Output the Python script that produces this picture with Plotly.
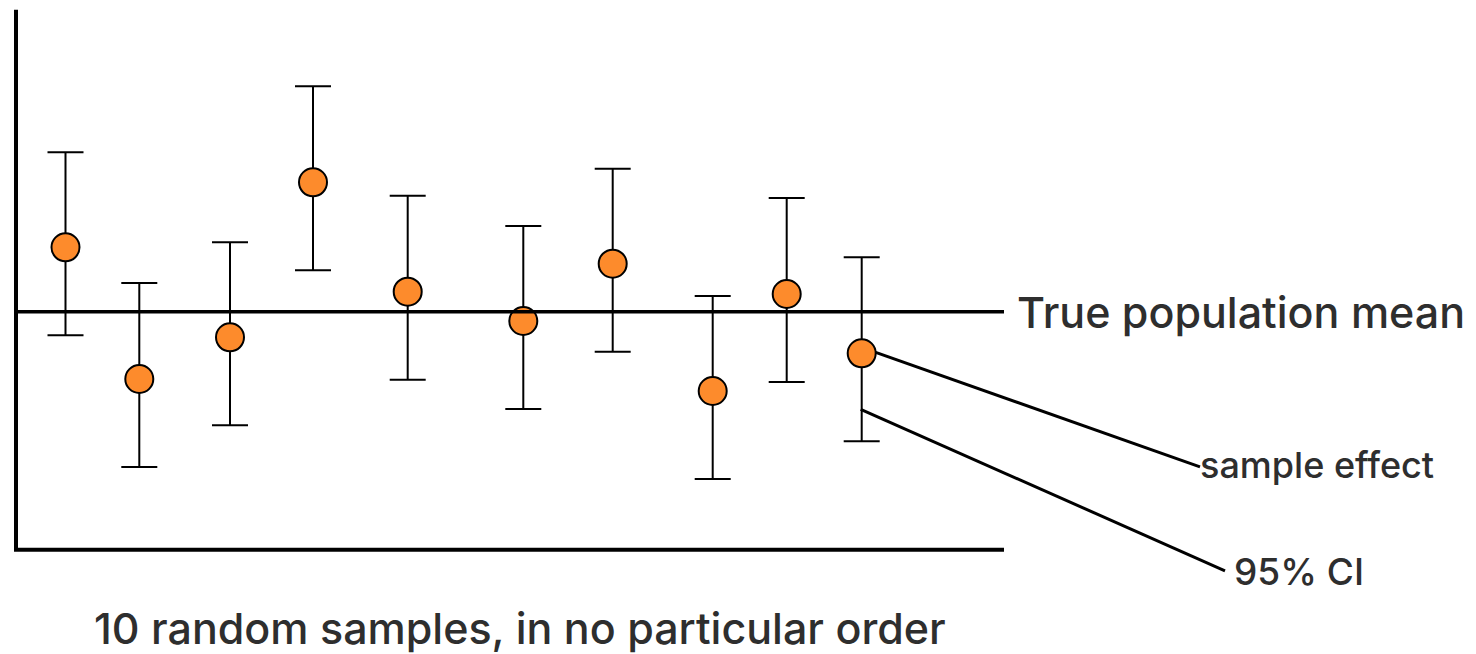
import plotly.graph_objects as go

# Ten samples: horizontal slot, sample effect (relative to the true mean = 0),
# and the distance from the effect to the upper / lower 95% CI limits.
sample_x = [6.55, 13.93, 23.0, 31.3, 40.77, 52.33, 61.27, 71.27, 78.67, 86.17]
sample_effect = [6.45, -6.72, -2.55, 12.95, 2.01, -0.92, 4.81, -7.92, 1.78, -4.15]
ci_upper = [9.5, 9.6, 9.5, 9.6, 9.6, 9.5, 9.5, 9.5, 9.6, 9.6]
ci_lower = [8.8, 8.8, 8.8, 8.8, 8.8, 8.8, 8.8, 8.8, 8.8, 8.8]

true_mean = 0.0

title_text = "10 random samples, in no particular order"
mean_label = "True population mean"
effect_label = "sample effect"
ci_label = "95% CI"

TEXT = "#2e2e2e"
FONT = "Inter, Liberation Sans, Arial, sans-serif"

fig = go.Figure()

fig.add_trace(go.Scatter(
    x=sample_x,
    y=sample_effect,
    mode="markers",
    marker=dict(size=28, color="#FD8B2C", line=dict(color="black", width=2)),
    error_y=dict(
        type="data",
        symmetric=False,
        array=ci_upper,
        arrayminus=ci_lower,
        color="black",
        thickness=2,
        width=18,
    ),
    showlegend=False,
    hoverinfo="skip",
))

# frame: left axis, bottom axis and the true-mean reference line
fig.add_shape(type="line", x0=1.6, x1=1.6, y0=-23.8, y1=30.2,
              line=dict(color="black", width=4))
fig.add_shape(type="line", x0=1.4, x1=100.4, y0=-23.8, y1=-23.8,
              line=dict(color="black", width=4))
fig.add_shape(type="line", x0=1.6, x1=100.4, y0=true_mean, y1=true_mean,
              line=dict(color="black", width=3.5))

# leader lines from the last sample to its labels
last = len(sample_x) - 1
fig.add_shape(type="line", x0=sample_x[last] + 1.4, y0=sample_effect[last] + 0.1,
              x1=120.0, y1=-15.5, line=dict(color="black", width=3))
fig.add_shape(type="line", x0=sample_x[last] - 0.1, y0=-9.75,
              x1=122.5, y1=-25.9, line=dict(color="black", width=3))

fig.add_annotation(x=101.5, y=true_mean, text=mean_label, showarrow=False,
                   xanchor="left", yanchor="middle",
                   font=dict(family=FONT, size=43, color=TEXT, weight=500))
fig.add_annotation(x=119.8, y=-15.3, text=effect_label, showarrow=False,
                   xanchor="left", yanchor="middle",
                   font=dict(family=FONT, size=36, color=TEXT, weight=500))
fig.add_annotation(x=123.2, y=-26.0, text=ci_label, showarrow=False,
                   xanchor="left", yanchor="middle",
                   font=dict(family=FONT, size=37, color=TEXT, weight=500))
fig.add_annotation(x=52.0, y=-31.6, text=title_text, showarrow=False,
                   xanchor="center", yanchor="middle",
                   font=dict(family=FONT, size=43, color=TEXT, weight=500))

fig.update_layout(
    width=1476,
    height=654,
    margin=dict(l=0, r=0, t=0, b=0),
    paper_bgcolor="white",
    plot_bgcolor="white",
    xaxis=dict(range=[0, 147.6], visible=False, fixedrange=True),
    yaxis=dict(range=[-34.22, 31.18], visible=False, fixedrange=True),
)

fig.write_html("out.html")
